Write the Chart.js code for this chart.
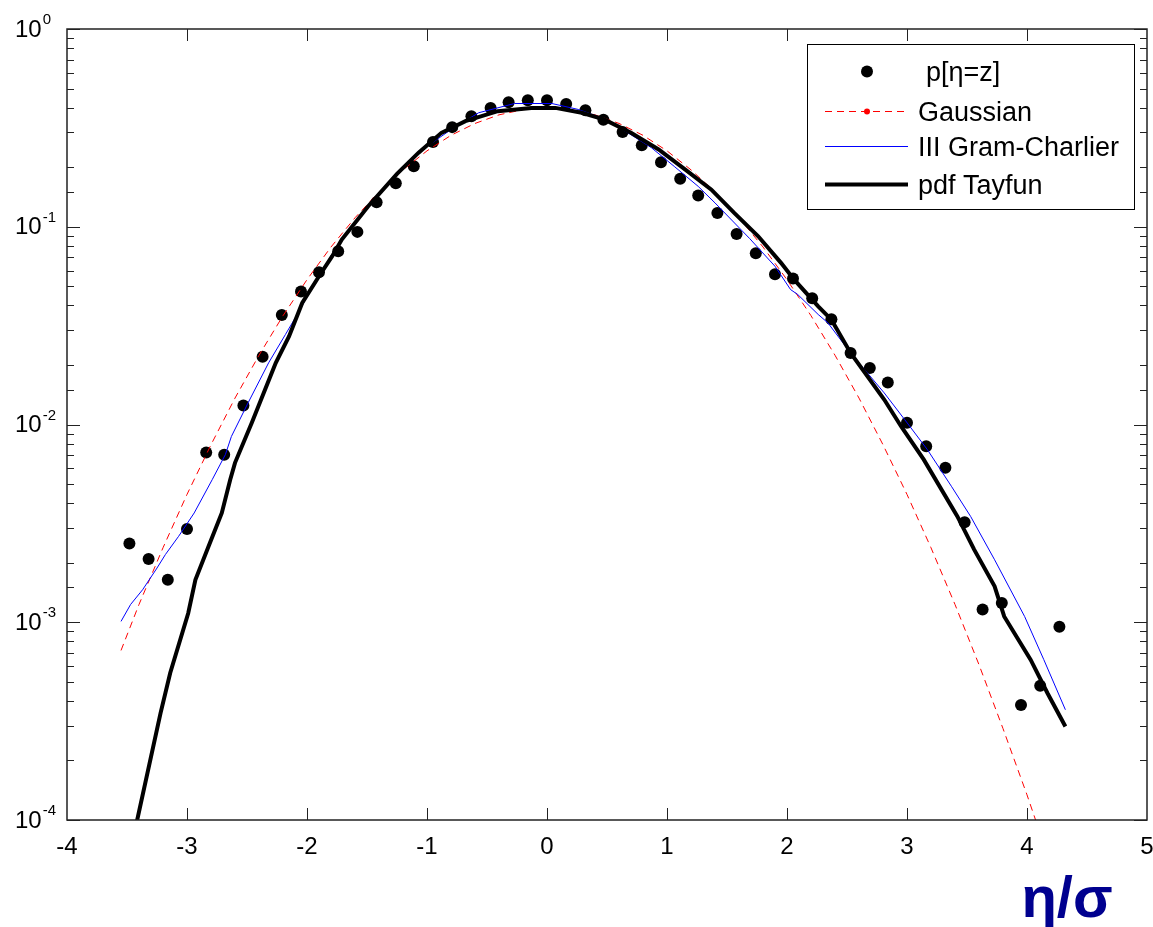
<!DOCTYPE html>
<html>
<head>
<meta charset="utf-8">
<script src="https://cdn.jsdelivr.net/npm/chart.js@4.4.0/dist/chart.umd.min.js"></script>
<style>
  body { margin: 0; background: #fff; }
  #chart { display: block; }
</style>
</head>
<body>
<canvas id="chart" width="1153" height="927"></canvas>
<script>
const FONT = '"Liberation Sans", Arial, sans-serif';

// measured histogram p[eta=z]
const binX = [-3.48, -3.32, -3.16, -3.00, -2.84, -2.69, -2.53, -2.37, -2.21, -2.05,
              -1.90, -1.74, -1.58, -1.42, -1.26, -1.11, -0.95, -0.79, -0.63, -0.47,
              -0.32, -0.16, 0.00, 0.16, 0.32, 0.47, 0.63, 0.79, 0.95, 1.11,
              1.26, 1.42, 1.58, 1.74, 1.90, 2.05, 2.21, 2.37, 2.53, 2.69,
              2.84, 3.00, 3.16, 3.32, 3.48, 3.63, 3.79, 3.95, 4.11, 4.27];
const pEta = [0.00250, 0.00209, 0.00164, 0.00296, 0.00721, 0.00704, 0.01246, 0.0220, 0.0358, 0.0470,
              0.0589, 0.0752, 0.0942, 0.133, 0.166, 0.202, 0.268, 0.319, 0.362, 0.399,
              0.426, 0.436, 0.436, 0.418, 0.388, 0.348, 0.301, 0.258, 0.212, 0.175,
              0.144, 0.1175, 0.092, 0.0735, 0.0575, 0.0547, 0.0435, 0.0341, 0.0230, 0.0193,
              0.0163, 0.0102, 0.00776, 0.00605, 0.00320, 0.00116, 0.00125, 0.000382, 0.000478, 0.00095];

// Gaussian
const gaussX = [-3.55, -3.4, -3.2, -3.0, -2.8, -2.6, -2.4, -2.2, -2.0, -1.8,
                -1.6, -1.4, -1.2, -1.0, -0.8, -0.6, -0.4, -0.2, 0.0, 0.2,
                0.4, 0.6, 0.8, 1.0, 1.2, 1.4, 1.6, 1.8, 2.0, 2.2,
                2.4, 2.6, 2.8, 3.0, 3.2, 3.4, 3.6, 3.8, 4.0, 4.1];
const gaussY = [7.2e-4, 1.23e-3, 2.38e-3, 4.43e-3, 7.9e-3, 0.0136, 0.0224, 0.0355, 0.054, 0.079,
                0.111, 0.150, 0.194, 0.242, 0.290, 0.333, 0.368, 0.391, 0.399, 0.391,
                0.368, 0.333, 0.290, 0.242, 0.194, 0.150, 0.111, 0.079, 0.054, 0.0355,
                0.0224, 0.0136, 0.0079, 0.00443, 0.00238, 0.00123, 6.1e-4, 2.9e-4, 1.34e-4, 8.9e-5];

// III Gram-Charlier
const gcX = [-3.55, -3.47, -3.37, -3.25, -3.18, -3.07, -2.94, -2.79, -2.68, -2.63,
             -2.49, -2.32, -2.18, -2.07, -1.90, -1.71, -1.49, -1.25, -1.07, -0.82,
             -0.57, -0.27, 0.04, 0.26, 0.48, 0.70, 0.87, 1.06, 1.26, 1.40,
             1.69, 1.90, 2.03, 2.09, 2.26, 2.34, 2.53, 2.81, 2.98, 3.17,
             3.37, 3.53, 3.73, 3.98, 4.14, 4.32];
const gcY = [1.01e-3, 1.23e-3, 1.46e-3, 1.88e-3, 2.20e-3, 2.72e-3, 3.57e-3, 5.26e-3, 7.05e-3, 8.7e-3,
             0.0129, 0.0205, 0.0285, 0.037, 0.057, 0.087, 0.127, 0.186, 0.238, 0.304,
             0.377, 0.42, 0.42, 0.392, 0.351, 0.292, 0.251, 0.202, 0.160, 0.132,
             0.087, 0.0631, 0.0481, 0.0454, 0.036, 0.0327, 0.023, 0.01445, 0.0106, 0.00746,
             0.00487, 0.00343, 0.00207, 0.00107, 6.47e-4, 3.61e-4];

// pdf Tayfun
const tayX = [-3.45, -3.415, -3.22, -3.14, -2.99, -2.93, -2.82, -2.71, -2.64, -2.60,
              -2.46, -2.35, -2.26, -2.15, -2.04, -1.90, -1.79, -1.71, -1.49, -1.25,
              -1.07, -0.88, -0.68, -0.41, -0.13, 0.07, 0.29, 0.48, 0.70, 0.93,
              1.15, 1.37, 1.56, 1.76, 1.95, 2.06, 2.26, 2.37, 2.53, 2.81,
              2.95, 3.14, 3.42, 3.56, 3.73, 3.81, 4.03, 4.17, 4.32];
const tayY = [8.0e-5, 1.0e-4, 3.48e-4, 5.54e-4, 1.11e-3, 1.64e-3, 2.42e-3, 3.57e-3, 5.26e-3, 6.4e-3,
              0.0102, 0.0150, 0.0205, 0.0279, 0.0412, 0.0562, 0.071, 0.0861, 0.127, 0.185,
              0.237, 0.2985, 0.342, 0.384, 0.399, 0.399, 0.377, 0.348, 0.2985, 0.246,
              0.195, 0.154, 0.1175, 0.0895, 0.0657, 0.054, 0.0396, 0.0339, 0.023, 0.01337,
              0.0098, 0.00664, 0.00343, 0.00233, 0.00152, 0.00107, 6.47e-4, 4.39e-4, 2.97e-4];

const yDecades = [0, -1, -2, -3, -4];
const xTitle = 'η/σ';

function toPoints(xs, ys) {
    return xs.map((x, i) => ({ x: x, y: ys[i] }));
}

// frame with inward ticks, y labels with exponents, boxed legend, axis title
const framePlugin = {
    id: 'frame',
    afterDatasetsDraw(chart) {
        const ctx = chart.ctx;
        const a = chart.chartArea;
        const xs = chart.scales.x;
        const ys = chart.scales.y;
        ctx.save();

        ctx.strokeStyle = '#222';
        ctx.lineWidth = 1.5;
        ctx.strokeRect(a.left, a.top, a.right - a.left, a.bottom - a.top);

        ctx.lineWidth = 1;
        ctx.beginPath();
        xs.ticks.forEach(t => {
            if (t.value <= xs.min || t.value >= xs.max) return;
            const px = Math.round(xs.getPixelForValue(t.value)) + 0.5;
            ctx.moveTo(px, a.bottom); ctx.lineTo(px, a.bottom - 12);
            ctx.moveTo(px, a.top); ctx.lineTo(px, a.top + 12);
        });
        ys.ticks.forEach(t => {
            const e = Math.log10(t.value);
            const len = Math.abs(e - Math.round(e)) < 1e-6 ? 13 : 7;
            const py = Math.round(ys.getPixelForValue(t.value)) + 0.5;
            ctx.moveTo(a.left, py); ctx.lineTo(a.left + len, py);
            ctx.moveTo(a.right, py); ctx.lineTo(a.right - len, py);
        });
        ctx.stroke();

        // y tick labels 10^n
        ctx.fillStyle = '#000';
        ctx.textAlign = 'left';
        yDecades.forEach(d => {
            const py = ys.getPixelForValue(Math.pow(10, d));
            const x0 = a.left - 52;
            ctx.font = '24px ' + FONT;
            ctx.textBaseline = 'middle';
            ctx.fillText('10', x0, py + 1);
            const w = ctx.measureText('10').width;
            ctx.font = '15px ' + FONT;
            ctx.textBaseline = 'alphabetic';
            ctx.fillText(String(d), x0 + w + 1, py - 5);
        });

        // legend
        const bx = a.right - 340, by = a.top + 15.5, bw = 327, bh = 165;
        ctx.fillStyle = '#fff';
        ctx.fillRect(bx, by, bw, bh);
        ctx.strokeStyle = '#000';
        ctx.lineWidth = 1;
        ctx.strokeRect(bx + 0.5, by, bw, bh);
        const rowY = [27, 67, 102, 140];
        chart.data.datasets.forEach((ds, i) => {
            const y = by + rowY[i];
            if (ds.showLine) {
                ctx.save();
                ctx.strokeStyle = ds.borderColor;
                ctx.lineWidth = ds.borderWidth;
                ctx.setLineDash(ds.borderDash || []);
                ctx.beginPath();
                ctx.moveTo(bx + 18, y); ctx.lineTo(bx + 101, y);
                ctx.stroke();
                ctx.restore();
            }
            const r = ds.showLine ? (ds.legendDot || 0) : ds.pointRadius;
            if (r > 0) {
                ctx.fillStyle = ds.showLine ? ds.borderColor : ds.backgroundColor;
                ctx.beginPath();
                ctx.arc(bx + 60, y, r, 0, Math.PI * 2);
                ctx.fill();
            }
            ctx.fillStyle = '#000';
            ctx.font = '27px ' + FONT;
            ctx.textBaseline = 'middle';
            ctx.textAlign = 'left';
            ctx.fillText(ds.label, bx + (i === 0 ? 119 : 111), y + 2);
        });

        // axis title
        ctx.font = 'bold 58px ' + FONT;
        ctx.fillStyle = '#00008f';
        ctx.textAlign = 'center';
        ctx.textBaseline = 'alphabetic';
        ctx.fillText(xTitle, a.right - 80, chart.height - 10);

        ctx.restore();
    }
};

new Chart(document.getElementById('chart'), {
    type: 'scatter',
    data: {
        datasets: [
            {
                label: 'p[η=z]',
                data: toPoints(binX, pEta),
                showLine: false,
                pointRadius: 6,
                pointBorderWidth: 0,
                backgroundColor: '#000',
                borderColor: '#000',
                order: 3
            },
            {
                label: 'Gaussian',
                data: toPoints(gaussX, gaussY),
                showLine: true,
                pointRadius: 0,
                borderColor: '#ff0000',
                borderWidth: 1,
                borderDash: [7, 5],
                legendDot: 3,
                order: 2
            },
            {
                label: 'III Gram-Charlier',
                data: toPoints(gcX, gcY),
                showLine: true,
                pointRadius: 0,
                borderColor: '#0000ff',
                borderWidth: 1,
                order: 1
            },
            {
                label: 'pdf Tayfun',
                data: toPoints(tayX, tayY),
                showLine: true,
                pointRadius: 0,
                borderColor: '#000',
                borderWidth: 4,
                order: 0
            }
        ]
    },
    options: {
        responsive: false,
        animation: false,
        devicePixelRatio: 1,
        layout: { padding: { top: 29, right: 4, left: 0, bottom: 0 } },
        plugins: {
            legend: { display: false },
            tooltip: { enabled: false }
        },
        scales: {
            x: {
                type: 'linear',
                min: -4,
                max: 5,
                ticks: {
                    stepSize: 1,
                    color: '#000',
                    font: { family: FONT, size: 24 },
                    padding: 13,
                    maxRotation: 0,
                    autoSkip: false
                },
                grid: { display: false, drawTicks: false },
                border: { display: false },
                afterFit(scale) {
                    scale.height = 107;
                    scale.paddingLeft = 0;
                    scale.paddingRight = 0;
                }
            },
            y: {
                type: 'logarithmic',
                min: 1e-4,
                max: 1,
                ticks: { display: false },
                grid: { display: false, drawTicks: false },
                border: { display: false },
                afterFit(scale) {
                    scale.width = 67;
                    scale.paddingTop = 0;
                    scale.paddingBottom = 0;
                }
            }
        }
    },
    plugins: [framePlugin]
});
</script>
</body>
</html>
